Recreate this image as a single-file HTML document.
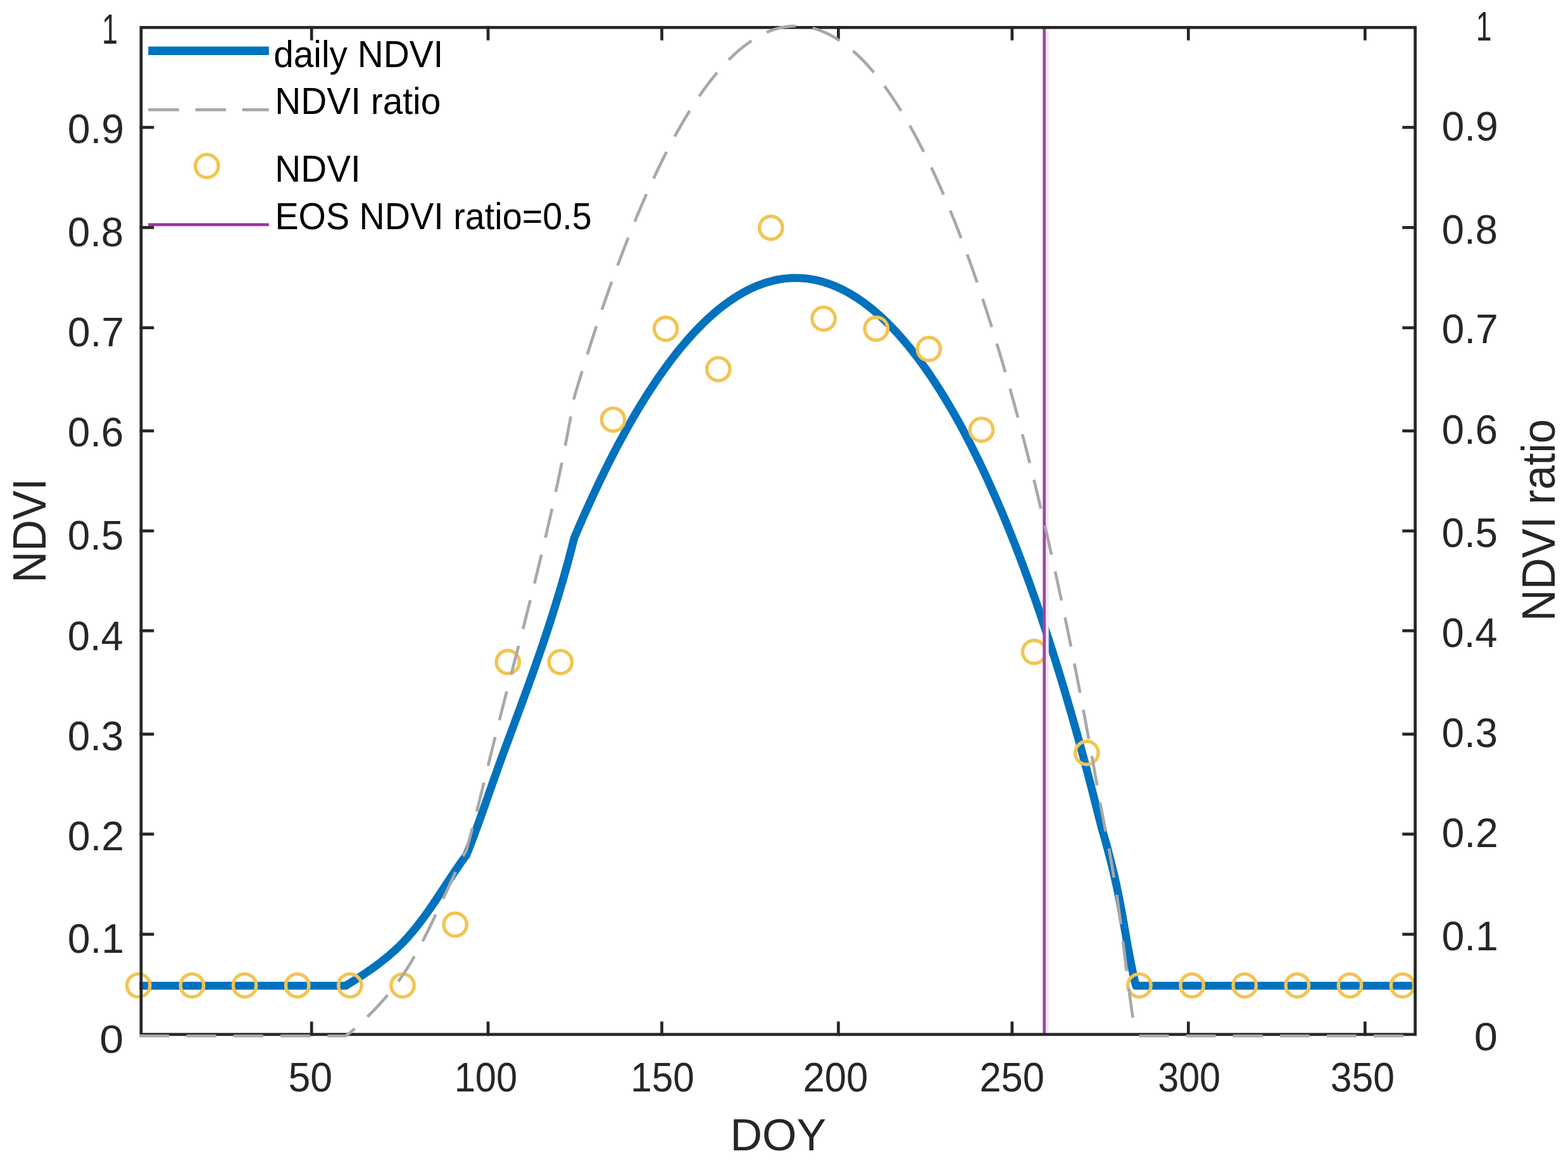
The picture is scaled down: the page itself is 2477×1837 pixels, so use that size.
<!DOCTYPE html>
<html lang="en"><head><meta charset="utf-8"><title>NDVI phenology chart</title>
<style>
html,body{margin:0;padding:0;background:#fff;}
body{width:2477px;height:1837px;overflow:hidden;}
svg{display:block;}
</style></head>
<body>
<svg width="2477" height="1837" viewBox="0 0 2477 1837" font-family='"Liberation Sans", Arial, Helvetica, sans-serif' font-size="100">
<rect width="2477" height="1837" fill="#fff"/>
<path d="M220.27 1557 L546 1557 L553.2 1552.58 L560.36 1548.11 L567.46 1543.57 L574.5 1538.95 L581.47 1534.25 L588.34 1529.45 L595.12 1524.54 L601.79 1519.51 L608.33 1514.35 L614.74 1509.06 L621 1503.61 L627.1 1498.01 L633.03 1492.24 L638.79 1486.29 L644.39 1480.19 L649.84 1473.94 L655.15 1467.55 L660.34 1461.04 L665.42 1454.42 L670.4 1447.7 L675.29 1440.9 L680.1 1434.03 L684.86 1427.11 L689.57 1420.13 L694.24 1413.13 L698.89 1406.1 L703.52 1399.07 L708.16 1392.04 L712.81 1385.03 L717.48 1378.05 L722.2 1371.11 L726.96 1364.24 L731.79 1357.43 L736.7 1350.7 L736.7 1350.7 L739.77 1343.03 L742.77 1335.36 L745.71 1327.69 L748.59 1320.03 L751.43 1312.37 L754.22 1304.72 L756.98 1297.06 L759.72 1289.42 L762.43 1281.77 L765.13 1274.13 L767.82 1266.49 L770.5 1258.85 L773.18 1251.21 L775.86 1243.57 L778.55 1235.94 L781.25 1228.3 L783.96 1220.67 L786.69 1213.04 L789.44 1205.4 L792.21 1197.77 L795 1190.14 L797.8 1182.5 L800.61 1174.87 L803.44 1167.23 L806.27 1159.59 L809.11 1151.95 L811.95 1144.31 L814.79 1136.67 L817.63 1129.02 L820.46 1121.38 L823.29 1113.72 L826.11 1106.07 L828.93 1098.41 L831.72 1090.75 L834.5 1083.08 L837.27 1075.41 L840.02 1067.74 L842.74 1060.06 L845.45 1052.38 L848.14 1044.69 L850.81 1036.99 L853.46 1029.29 L856.09 1021.58 L858.69 1013.87 L861.27 1006.15 L863.83 998.42 L866.36 990.69 L868.87 982.95 L871.35 975.2 L873.81 967.45 L876.24 959.68 L878.64 951.91 L881.01 944.13 L883.35 936.34 L885.66 928.54 L887.95 920.73 L890.2 912.92 L892.42 905.09 L894.6 897.25 L896.76 889.4 L898.87 881.55 L900.96 873.68 L903.01 865.8 L905.02 857.9 L907 850 L907 850 L909.35 844.45 L911.72 838.91 L914.1 833.38 L916.5 827.85 L918.91 822.32 L921.34 816.81 L923.78 811.3 L926.24 805.8 L928.71 800.3 L931.2 794.81 L933.71 789.33 L936.23 783.86 L938.77 778.39 L941.33 772.94 L943.9 767.49 L946.49 762.05 L949.1 756.62 L951.73 751.2 L954.38 745.78 L957.05 740.38 L959.74 734.98 L962.44 729.6 L965.17 724.23 L967.92 718.86 L970.69 713.51 L973.48 708.17 L976.3 702.84 L979.13 697.53 L981.99 692.22 L984.87 686.93 L987.78 681.65 L990.71 676.39 L993.67 671.14 L996.65 665.9 L999.66 660.68 L1002.7 655.47 L1005.76 650.28 L1008.85 645.11 L1011.97 639.96 L1015.13 634.82 L1018.31 629.7 L1021.52 624.6 L1024.76 619.52 L1028.04 614.46 L1031.34 609.43 L1034.69 604.41 L1038.07 599.42 L1041.48 594.46 L1044.94 589.52 L1048.42 584.61 L1051.95 579.72 L1055.53 574.87 L1059.14 570.04 L1062.79 565.25 L1066.49 560.49 L1070.23 555.77 L1074.02 551.08 L1077.86 546.44 L1081.74 541.83 L1085.68 537.27 L1089.67 532.75 L1093.71 528.28 L1097.81 523.86 L1101.96 519.5 L1106.17 515.19 L1110.45 510.94 L1114.78 506.75 L1119.18 502.63 L1123.64 498.58 L1128.17 494.61 L1132.77 490.72 L1137.45 486.91 L1142.19 483.19 L1147 479.57 L1151.89 476.05 L1156.86 472.64 L1161.91 469.34 L1167.03 466.17 L1172.23 463.13 L1177.51 460.23 L1182.87 457.47 L1188.31 454.87 L1193.82 452.44 L1199.41 450.18 L1205.07 448.1 L1210.79 446.22 L1216.58 444.54 L1222.42 443.07 L1228.32 441.82 L1234.25 440.8 L1240.23 440 L1246.23 439.45 L1252.24 439.13 L1258.27 439.06 L1264.29 439.23 L1270.3 439.65 L1276.29 440.3 L1282.25 441.19 L1288.17 442.31 L1294.05 443.66 L1299.87 445.22 L1305.63 446.99 L1311.32 448.96 L1316.95 451.12 L1322.5 453.47 L1327.97 455.98 L1333.37 458.66 L1338.69 461.5 L1343.93 464.48 L1349.08 467.59 L1354.16 470.84 L1359.16 474.21 L1364.08 477.69 L1368.92 481.28 L1373.68 484.97 L1378.37 488.75 L1382.99 492.62 L1387.54 496.58 L1392.01 500.62 L1396.42 504.73 L1400.76 508.91 L1405.03 513.15 L1409.24 517.46 L1413.39 521.83 L1417.49 526.26 L1421.52 530.73 L1425.5 535.26 L1429.42 539.84 L1433.29 544.46 L1437.1 549.12 L1440.87 553.83 L1444.59 558.57 L1448.26 563.35 L1451.88 568.16 L1455.46 573.01 L1458.99 577.89 L1462.49 582.8 L1465.94 587.74 L1469.35 592.71 L1472.72 597.71 L1476.05 602.73 L1479.34 607.78 L1482.6 612.85 L1485.82 617.94 L1489.01 623.05 L1492.16 628.19 L1495.29 633.34 L1498.37 638.52 L1501.43 643.71 L1504.46 648.92 L1507.45 654.15 L1510.42 659.4 L1513.35 664.66 L1516.26 669.94 L1519.14 675.23 L1522 680.54 L1524.83 685.86 L1527.63 691.19 L1530.41 696.54 L1533.16 701.9 L1535.88 707.28 L1538.59 712.66 L1541.27 718.06 L1543.93 723.47 L1546.56 728.89 L1549.17 734.32 L1551.76 739.76 L1554.33 745.21 L1556.88 750.67 L1559.41 756.14 L1561.91 761.62 L1564.4 767.11 L1566.87 772.61 L1569.32 778.12 L1571.75 783.63 L1574.16 789.15 L1576.55 794.68 L1578.93 800.22 L1581.29 805.77 L1583.63 811.32 L1585.95 816.88 L1588.26 822.45 L1590.55 828.02 L1592.82 833.61 L1595.08 839.19 L1597.32 844.79 L1599.54 850.39 L1601.75 855.99 L1603.95 861.6 L1606.13 867.22 L1608.3 872.85 L1610.45 878.48 L1612.58 884.11 L1614.71 889.75 L1616.82 895.39 L1618.91 901.04 L1620.99 906.7 L1623.06 912.36 L1625.12 918.03 L1627.16 923.69 L1629.19 929.37 L1631.21 935.05 L1633.21 940.73 L1635.2 946.42 L1637.18 952.11 L1639.15 957.81 L1641.1 963.51 L1643.05 969.21 L1644.98 974.92 L1646.9 980.63 L1648.81 986.35 L1650.71 992.07 L1652.6 997.79 L1654.47 1003.52 L1656.34 1009.25 L1658.19 1014.98 L1660.04 1020.72 L1661.87 1026.46 L1663.7 1032.2 L1665.51 1037.95 L1667.31 1043.7 L1669.1 1049.45 L1670.89 1055.21 L1672.66 1060.97 L1674.42 1066.73 L1676.18 1072.49 L1677.92 1078.26 L1679.66 1084.03 L1681.38 1089.81 L1683.1 1095.58 L1684.81 1101.36 L1686.51 1107.14 L1688.2 1112.93 L1689.88 1118.72 L1691.55 1124.51 L1693.22 1130.3 L1694.87 1136.09 L1696.52 1141.89 L1698.16 1147.69 L1699.79 1153.49 L1701.41 1159.29 L1703.02 1165.1 L1704.63 1170.91 L1706.23 1176.72 L1707.82 1182.53 L1709.4 1188.35 L1710.97 1194.16 L1712.54 1199.98 L1714.1 1205.8 L1715.65 1211.63 L1717.19 1217.45 L1718.73 1223.28 L1720.26 1229.11 L1721.78 1234.94 L1723.29 1240.77 L1724.8 1246.61 L1726.3 1252.44 L1727.79 1258.28 L1729.28 1264.12 L1730.76 1269.96 L1730.77 1270 L1732.03 1275 L1733.29 1280 L1734.54 1285 L1735.8 1290 L1737.08 1295 L1738.38 1300 L1739.72 1305 L1741.09 1310 L1742.48 1315 L1743.9 1320 L1745.33 1325 L1746.75 1330 L1748.15 1335 L1749.49 1340 L1750.8 1345 L1752.1 1350 L1753.38 1355 L1754.64 1360 L1755.89 1365 L1757.12 1370 L1758.33 1375 L1759.53 1380 L1760.69 1385 L1761.84 1390 L1762.96 1395 L1764.06 1400 L1765.12 1405 L1766.16 1410 L1767.18 1415 L1768.16 1420 L1769.13 1425 L1770.08 1430 L1771.01 1435 L1771.92 1440 L1772.82 1445 L1773.72 1450 L1774.6 1455 L1775.47 1460 L1776.35 1465 L1777.22 1470 L1778.09 1475 L1778.96 1480 L1779.84 1485 L1780.73 1490 L1781.62 1495 L1782.53 1500 L1783.45 1505 L1784.39 1510 L1785.34 1515 L1786.32 1520 L1787.32 1525 L1788.34 1530 L1789.39 1535 L1790.47 1540 L1791.58 1545 L1792.73 1550 L1793.91 1555 L1794.4 1557 L2237.79 1557" fill="none" stroke="#0072BD" stroke-width="12.7" stroke-linejoin="round"/>
<g fill="none" stroke="#F2C452" stroke-width="5.4">
<circle cx="218.67" cy="1556.56" r="18.2"/>
<circle cx="303.41" cy="1556.56" r="18.2"/>
<circle cx="386.55" cy="1556.56" r="18.2"/>
<circle cx="469.69" cy="1556.56" r="18.2"/>
<circle cx="552.83" cy="1556.56" r="18.2"/>
<circle cx="635.97" cy="1556.56" r="18.2"/>
<circle cx="719.11" cy="1460.45" r="18.2"/>
<circle cx="802.25" cy="1045.69" r="18.2"/>
<circle cx="885.39" cy="1045.69" r="18.2"/>
<circle cx="968.53" cy="662.84" r="18.2"/>
<circle cx="1051.67" cy="519.27" r="18.2"/>
<circle cx="1134.8" cy="583.08" r="18.2"/>
<circle cx="1217.94" cy="359.75" r="18.2"/>
<circle cx="1301.08" cy="503.32" r="18.2"/>
<circle cx="1384.22" cy="519.27" r="18.2"/>
<circle cx="1467.36" cy="551.18" r="18.2"/>
<circle cx="1550.5" cy="678.79" r="18.2"/>
<circle cx="1633.64" cy="1029.74" r="18.2"/>
<circle cx="1716.78" cy="1189.26" r="18.2"/>
<circle cx="1799.92" cy="1556.56" r="18.2"/>
<circle cx="1883.06" cy="1556.56" r="18.2"/>
<circle cx="1966.2" cy="1556.56" r="18.2"/>
<circle cx="2049.34" cy="1556.56" r="18.2"/>
<circle cx="2132.48" cy="1556.56" r="18.2"/>
<circle cx="2215.62" cy="1556.56" r="18.2"/>
</g>
<line x1="1649.7" y1="43.4" x2="1649.7" y2="1633.9" stroke="#A0479F" stroke-width="4.8"/>
<line x1="1654.4" y1="43.4" x2="1654.4" y2="1633.9" stroke="#FBE6FA" stroke-width="4.6"/>
<g stroke="#262626" stroke-width="4.7" fill="none">
<rect x="222.9" y="43.4" width="2012.7" height="1590.5"/>
<line x1="492.2" y1="1636.25" x2="492.2" y2="1613.55"/>
<line x1="492.2" y1="41.05" x2="492.2" y2="63.75"/>
<line x1="771" y1="1636.25" x2="771" y2="1613.55"/>
<line x1="771" y1="41.05" x2="771" y2="63.75"/>
<line x1="1045.5" y1="1636.25" x2="1045.5" y2="1613.55"/>
<line x1="1045.5" y1="41.05" x2="1045.5" y2="63.75"/>
<line x1="1324.4" y1="1636.25" x2="1324.4" y2="1613.55"/>
<line x1="1324.4" y1="41.05" x2="1324.4" y2="63.75"/>
<line x1="1598.8" y1="1636.25" x2="1598.8" y2="1613.55"/>
<line x1="1598.8" y1="41.05" x2="1598.8" y2="63.75"/>
<line x1="1877.3" y1="1636.25" x2="1877.3" y2="1613.55"/>
<line x1="1877.3" y1="41.05" x2="1877.3" y2="63.75"/>
<line x1="2156.4" y1="1636.25" x2="2156.4" y2="1613.55"/>
<line x1="2156.4" y1="41.05" x2="2156.4" y2="63.75"/>
<line x1="220.55" y1="1475.7" x2="243.25" y2="1475.7"/>
<line x1="2237.95" y1="1475.7" x2="2215.25" y2="1475.7"/>
<line x1="220.55" y1="1317.5" x2="243.25" y2="1317.5"/>
<line x1="2237.95" y1="1317.5" x2="2215.25" y2="1317.5"/>
<line x1="220.55" y1="1159.6" x2="243.25" y2="1159.6"/>
<line x1="2237.95" y1="1159.6" x2="2215.25" y2="1159.6"/>
<line x1="220.55" y1="996.3" x2="243.25" y2="996.3"/>
<line x1="2237.95" y1="996.3" x2="2215.25" y2="996.3"/>
<line x1="220.55" y1="838.6" x2="243.25" y2="838.6"/>
<line x1="2237.95" y1="838.6" x2="2215.25" y2="838.6"/>
<line x1="220.55" y1="680.6" x2="243.25" y2="680.6"/>
<line x1="2237.95" y1="680.6" x2="2215.25" y2="680.6"/>
<line x1="220.55" y1="517.7" x2="243.25" y2="517.7"/>
<line x1="2237.95" y1="517.7" x2="2215.25" y2="517.7"/>
<line x1="220.55" y1="359.4" x2="243.25" y2="359.4"/>
<line x1="2237.95" y1="359.4" x2="2215.25" y2="359.4"/>
<line x1="220.55" y1="201.2" x2="243.25" y2="201.2"/>
<line x1="2237.95" y1="201.2" x2="2215.25" y2="201.2"/>
</g>
<path d="M220.27 1636.27 L546 1636.27 L553.2 1631.16 L560.36 1624.77 L567.46 1618.29 L574.5 1611.7 L581.47 1604.98 L588.34 1598.12 L595.12 1591.11 L601.79 1583.93 L608.33 1576.57 L614.74 1569.01 L621 1561.24 L627.1 1553.24 L633.03 1544.99 L638.79 1536.5 L644.39 1527.78 L649.84 1518.85 L655.15 1509.73 L660.34 1500.44 L665.42 1490.99 L670.4 1481.4 L675.29 1471.69 L680.1 1461.88 L684.86 1451.98 L689.57 1442.02 L694.24 1432.02 L698.89 1421.98 L703.52 1411.94 L708.16 1401.9 L712.81 1391.89 L717.48 1381.93 L722.2 1372.03 L726.96 1362.2 L731.79 1352.48 L736.7 1342.87 L736.7 1342.87 L739.77 1331.92 L742.77 1320.96 L745.71 1310.02 L748.59 1299.08 L751.43 1288.14 L754.22 1277.21 L756.98 1266.28 L759.72 1255.36 L762.43 1244.44 L765.13 1233.53 L767.82 1222.62 L770.5 1211.71 L773.18 1200.8 L775.86 1189.9 L778.55 1178.99 L781.25 1168.09 L783.96 1157.19 L786.69 1146.29 L789.44 1135.39 L792.21 1124.49 L795 1113.59 L797.8 1102.69 L800.61 1091.79 L803.44 1080.88 L806.27 1069.98 L809.11 1059.07 L811.95 1048.16 L814.79 1037.24 L817.63 1026.32 L820.46 1015.4 L823.29 1004.47 L826.11 993.54 L828.93 982.61 L831.72 971.67 L834.5 960.72 L837.27 949.77 L840.02 938.81 L842.74 927.84 L845.45 916.87 L848.14 905.89 L850.81 894.9 L853.46 883.9 L856.09 872.9 L858.69 861.88 L861.27 850.86 L863.83 839.83 L866.36 828.78 L868.87 817.73 L871.35 806.67 L873.81 795.59 L876.24 784.51 L878.64 773.41 L881.01 762.3 L883.35 751.17 L885.66 740.04 L887.95 728.89 L890.2 717.72 L892.42 706.54 L894.6 695.35 L896.76 684.15 L898.87 672.92 L900.96 661.69 L903.01 650.43 L905.02 639.16 L907 627.88 L907 627.88 L909.35 619.96 L911.72 612.04 L914.1 604.14 L916.5 596.24 L918.91 588.36 L921.34 580.48 L923.78 572.61 L926.24 564.75 L928.71 556.91 L931.2 549.07 L933.71 541.24 L936.23 533.43 L938.77 525.63 L941.33 517.83 L943.9 510.05 L946.49 502.28 L949.1 494.53 L951.73 486.79 L954.38 479.06 L957.05 471.34 L959.74 463.64 L962.44 455.95 L965.17 448.28 L967.92 440.62 L970.69 432.97 L973.48 425.35 L976.3 417.74 L979.13 410.15 L981.99 402.57 L984.87 395.01 L987.78 387.48 L990.71 379.96 L993.67 372.46 L996.65 364.98 L999.66 357.53 L1002.7 350.09 L1005.76 342.68 L1008.85 335.3 L1011.97 327.93 L1015.13 320.6 L1018.31 313.29 L1021.52 306.01 L1024.76 298.75 L1028.04 291.53 L1031.34 284.34 L1034.69 277.18 L1038.07 270.06 L1041.48 262.97 L1044.94 255.91 L1048.42 248.9 L1051.95 241.92 L1055.53 234.99 L1059.14 228.1 L1062.79 221.26 L1066.49 214.46 L1070.23 207.72 L1074.02 201.03 L1077.86 194.39 L1081.74 187.81 L1085.68 181.3 L1089.67 174.85 L1093.71 168.47 L1097.81 162.16 L1101.96 155.92 L1106.17 149.77 L1110.45 143.7 L1114.78 137.72 L1119.18 131.84 L1123.64 126.06 L1128.17 120.38 L1132.77 114.82 L1137.45 109.39 L1142.19 104.08 L1147 98.91 L1151.89 93.88 L1156.86 89.01 L1161.91 84.3 L1167.03 79.77 L1172.23 75.43 L1177.51 71.28 L1182.87 67.35 L1188.31 63.64 L1193.82 60.16 L1199.41 56.93 L1205.07 53.97 L1210.79 51.28 L1216.58 48.88 L1222.42 46.79 L1228.32 45 L1234.25 43.54 L1240.23 42.4 L1246.23 41.61 L1252.24 41.16 L1258.27 41.06 L1264.29 41.31 L1270.3 41.9 L1276.29 42.83 L1282.25 44.1 L1288.17 45.7 L1294.05 47.62 L1299.87 49.85 L1305.63 52.38 L1311.32 55.2 L1316.95 58.29 L1322.5 61.63 L1327.97 65.23 L1333.37 69.05 L1338.69 73.1 L1343.93 77.36 L1349.08 81.81 L1354.16 86.44 L1359.16 91.25 L1364.08 96.22 L1368.92 101.34 L1373.68 106.61 L1378.37 112.02 L1382.99 117.54 L1387.54 123.19 L1392.01 128.96 L1396.42 134.83 L1400.76 140.8 L1405.03 146.86 L1409.24 153.02 L1413.39 159.26 L1417.49 165.58 L1421.52 171.97 L1425.5 178.43 L1429.42 184.97 L1433.29 191.57 L1437.1 198.23 L1440.87 204.94 L1444.59 211.71 L1448.26 218.54 L1451.88 225.42 L1455.46 232.34 L1458.99 239.31 L1462.49 246.32 L1465.94 253.38 L1469.35 260.47 L1472.72 267.61 L1476.05 274.78 L1479.34 281.98 L1482.6 289.22 L1485.82 296.5 L1489.01 303.8 L1492.16 311.13 L1495.29 318.49 L1498.37 325.88 L1501.43 333.3 L1504.46 340.74 L1507.45 348.21 L1510.42 355.7 L1513.35 363.21 L1516.26 370.75 L1519.14 378.31 L1522 385.89 L1524.83 393.48 L1527.63 401.1 L1530.41 408.74 L1533.16 416.4 L1535.88 424.07 L1538.59 431.76 L1541.27 439.47 L1543.93 447.19 L1546.56 454.93 L1549.17 462.69 L1551.76 470.46 L1554.33 478.24 L1556.88 486.04 L1559.41 493.85 L1561.91 501.68 L1564.4 509.51 L1566.87 517.37 L1569.32 525.23 L1571.75 533.1 L1574.16 540.99 L1576.55 548.89 L1578.93 556.8 L1581.29 564.72 L1583.63 572.65 L1585.95 580.59 L1588.26 588.54 L1590.55 596.5 L1592.82 604.47 L1595.08 612.44 L1597.32 620.43 L1599.54 628.43 L1601.75 636.44 L1603.95 644.45 L1606.13 652.47 L1608.3 660.5 L1610.45 668.54 L1612.58 676.59 L1614.71 684.64 L1616.82 692.7 L1618.91 700.77 L1620.99 708.85 L1623.06 716.93 L1625.12 725.02 L1627.16 733.11 L1629.19 741.22 L1631.21 749.33 L1633.21 757.44 L1635.2 765.56 L1637.18 773.69 L1639.15 781.83 L1641.1 789.96 L1643.05 798.11 L1644.98 806.26 L1646.9 814.42 L1648.81 822.58 L1650.71 830.75 L1652.6 838.92 L1654.47 847.1 L1656.34 855.28 L1658.19 863.47 L1660.04 871.66 L1661.87 879.86 L1663.7 888.06 L1665.51 896.27 L1667.31 904.48 L1669.1 912.69 L1670.89 920.91 L1672.66 929.14 L1674.42 937.37 L1676.18 945.6 L1677.92 953.84 L1679.66 962.08 L1681.38 970.32 L1683.1 978.57 L1684.81 986.82 L1686.51 995.08 L1688.2 1003.34 L1689.88 1011.6 L1691.55 1019.87 L1693.22 1028.14 L1694.87 1036.42 L1696.52 1044.69 L1698.16 1052.98 L1699.79 1061.26 L1701.41 1069.55 L1703.02 1077.84 L1704.63 1086.13 L1706.23 1094.43 L1707.82 1102.73 L1709.4 1111.03 L1710.97 1119.34 L1712.54 1127.65 L1714.1 1135.96 L1715.65 1144.28 L1717.19 1152.6 L1718.73 1160.92 L1720.26 1169.24 L1721.78 1177.57 L1723.29 1185.9 L1724.8 1194.23 L1726.3 1202.56 L1727.79 1210.9 L1729.28 1219.24 L1730.76 1227.58 L1730.77 1227.64 L1732.03 1234.78 L1733.29 1241.92 L1734.54 1249.06 L1735.8 1256.2 L1737.08 1263.34 L1738.38 1270.48 L1739.72 1277.62 L1741.09 1284.76 L1742.48 1291.9 L1743.9 1299.04 L1745.33 1306.18 L1746.75 1313.32 L1748.15 1320.46 L1749.49 1327.6 L1750.8 1334.74 L1752.1 1341.88 L1753.38 1349.02 L1754.64 1356.16 L1755.89 1363.3 L1757.12 1370.44 L1758.33 1377.58 L1759.53 1384.72 L1760.69 1391.86 L1761.84 1399 L1762.96 1406.14 L1764.06 1413.28 L1765.12 1420.42 L1766.16 1427.55 L1767.18 1434.69 L1768.16 1441.83 L1769.13 1448.97 L1770.08 1456.11 L1771.01 1463.25 L1771.92 1470.39 L1772.82 1477.53 L1773.72 1484.67 L1774.6 1491.81 L1775.47 1498.95 L1776.35 1506.09 L1777.22 1513.23 L1778.09 1520.37 L1778.96 1527.51 L1779.84 1534.65 L1780.73 1541.79 L1781.62 1548.93 L1782.53 1556.07 L1783.45 1563.21 L1784.39 1570.35 L1785.34 1577.49 L1786.32 1584.63 L1787.32 1591.77 L1788.34 1598.91 L1789.39 1606.05 L1790.47 1613.19 L1791.58 1620.33 L1792.73 1627.47 L1793.13 1629.9" fill="none" stroke="#a8a8a8" stroke-width="4.7" stroke-dasharray="47 27.3"/>
<line x1="1794.4" y1="1636.27" x2="2237.79" y2="1636.27" stroke="#a8a8a8" stroke-width="4.7" stroke-dasharray="46.9 27.2" stroke-dashoffset="68.9"/>
<text transform="translate(157.18 1663.26) scale(0.6812 0.6352)" fill="#262626">0</text>
<text transform="translate(2328.83 1658.86) scale(0.6667 0.6366)" fill="#262626">0</text>
<text transform="translate(106.63 1505.35) scale(0.6431 0.6479)" fill="#262626">0.1</text>
<text transform="translate(2277.43 1500.86) scale(0.6423 0.6437)" fill="#262626">0.1</text>
<text transform="translate(106.63 1342.75) scale(0.6431 0.6479)" fill="#262626">0.2</text>
<text transform="translate(2277.43 1338.06) scale(0.6423 0.6394)" fill="#262626">0.2</text>
<text transform="translate(106.65 1184.55) scale(0.6382 0.6479)" fill="#262626">0.3</text>
<text transform="translate(2277.45 1179.76) scale(0.6374 0.6394)" fill="#262626">0.3</text>
<text transform="translate(106.67 1026.55) scale(0.6333 0.6465)" fill="#262626">0.4</text>
<text transform="translate(2277.47 1021.85) scale(0.6326 0.6479)" fill="#262626">0.4</text>
<text transform="translate(106.65 868.25) scale(0.6382 0.6465)" fill="#262626">0.5</text>
<text transform="translate(2277.45 863.56) scale(0.6374 0.6394)" fill="#262626">0.5</text>
<text transform="translate(106.65 705.35) scale(0.6382 0.6521)" fill="#262626">0.6</text>
<text transform="translate(2277.45 700.56) scale(0.6374 0.6394)" fill="#262626">0.6</text>
<text transform="translate(106.63 547.05) scale(0.6431 0.6465)" fill="#262626">0.7</text>
<text transform="translate(2277.43 542.35) scale(0.6423 0.6479)" fill="#262626">0.7</text>
<text transform="translate(106.65 389.35) scale(0.6382 0.6479)" fill="#262626">0.8</text>
<text transform="translate(2277.45 384.56) scale(0.6374 0.6394)" fill="#262626">0.8</text>
<text transform="translate(106.63 226.35) scale(0.6431 0.6479)" fill="#262626">0.9</text>
<text transform="translate(2277.43 221.66) scale(0.6423 0.6394)" fill="#262626">0.9</text>
<text transform="translate(160.99 68.7) scale(0.4512 0.6594)" fill="#262626">1</text>
<text transform="translate(2331.75 64.1) scale(0.4442 0.6551)" fill="#262626">1</text>
<text transform="translate(455.39 1724.15) scale(0.6272 0.6451)" fill="#262626">50</text>
<text transform="translate(717.63 1724.15) scale(0.5961 0.6451)" fill="#262626">100</text>
<text transform="translate(996.18 1724.15) scale(0.6026 0.6451)" fill="#262626">150</text>
<text transform="translate(1268.42 1724.15) scale(0.6158 0.6451)" fill="#262626">200</text>
<text transform="translate(1547.43 1724.15) scale(0.6133 0.6451)" fill="#262626">250</text>
<text transform="translate(1829.23 1724.15) scale(0.5925 0.6451)" fill="#262626">300</text>
<text transform="translate(2101.77 1724.15) scale(0.6075 0.6451)" fill="#262626">350</text>
<text transform="translate(1153.4 1816.89) scale(0.7005 0.7127)" fill="#262626">DOY</text>
<text transform="translate(72 920.73) rotate(-90) scale(0.6910 0.7464)" fill="#262626">NDVI</text>
<text transform="translate(2456.4 981.34) rotate(-90) scale(0.6927 0.7435)" fill="#262626">NDVI ratio</text>
<line x1="234.2" y1="80.3" x2="424.8" y2="80.3" stroke="#0072BD" stroke-width="13.6"/>
<line x1="234.2" y1="173.4" x2="424.8" y2="173.4" stroke="#a8a8a8" stroke-width="4.7" stroke-dasharray="48.5 25.8"/>
<circle cx="326.8" cy="262.2" r="18.2" fill="none" stroke="#F2C452" stroke-width="5.4"/>
<line x1="234.2" y1="354.8" x2="424.8" y2="354.8" stroke="#9E349E" stroke-width="4.7"/>
<text transform="translate(432.23 105.9) scale(0.5678 0.5986)" fill="#000000">daily NDVI</text>
<text transform="translate(434.36 180.1) scale(0.5679 0.5971)" fill="#000000">NDVI ratio</text>
<text transform="translate(434.37 287.2) scale(0.5667 0.5971)" fill="#000000">NDVI</text>
<text transform="translate(434.44 361.6) scale(0.5573 0.5971)" fill="#000000">EOS NDVI ratio=0.5</text>
</svg>
</body></html>
